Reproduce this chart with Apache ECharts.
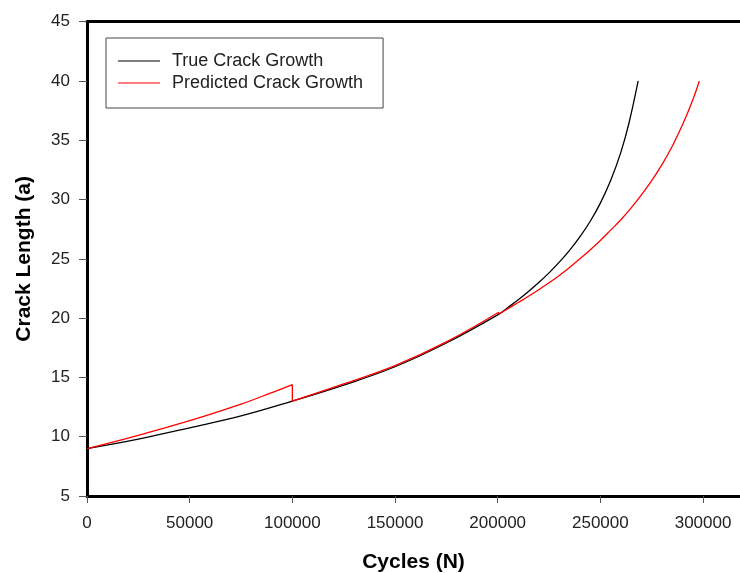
<!DOCTYPE html>
<html>
<head>
<meta charset="utf-8">
<script src="https://cdn.jsdelivr.net/npm/echarts@6/dist/echarts.min.js"></script>
<style>
html,body{margin:0;padding:0;background:#fff;}
#chart{width:740px;height:573px;}
</style>
</head>
<body>
<div id="chart"></div>
<script>
// ---- data ----
const seriesNames = ['True Crack Growth', 'Predicted Crack Growth'];

// true crack growth
const trueCycles = [0, 25000, 50000, 75000, 100000, 125000, 150000, 175000, 200000,
  205000, 210000, 215000, 220000, 225000, 230000, 235000, 240000, 245000, 250000, 255000, 260000, 264000, 268400];
const trueLength = [9.0, 9.8, 10.75, 11.75, 13.0, 14.35, 15.9, 17.9, 20.27,
  20.9, 21.55, 22.25, 23.0, 23.82, 24.72, 25.72, 26.85, 28.15, 29.7, 31.6, 34.0, 36.5, 40.0];

// predicted crack growth, three segments (re-calibrated at 100000 and ~200000 cycles)
const predCycles1 = [0, 25000, 50000, 75000, 89000, 100000];
const predLength1 = [9.0, 10.12, 11.35, 12.75, 13.65, 14.4];
const predCycles2 = [100000, 125000, 150000, 175000, 200500];
const predLength2 = [13.0, 14.45, 16.0, 18.0, 20.5];
const predCycles3 = [200500, 205000, 210000, 215000, 220000, 225000, 230000, 235000, 240000, 245000, 250000,
  255000, 260000, 265000, 270000, 275000, 280000, 285000, 290000, 295000, 298200];
const predLength3 = [20.33, 20.8, 21.32, 21.85, 22.4, 22.98, 23.6, 24.27, 25.0, 25.75, 26.55,
  27.42, 28.3, 29.3, 30.4, 31.6, 32.95, 34.5, 36.3, 38.4, 40.0];

const xTicks = {min: 0, max: 318000, interval: 50000};
const yTicks = {min: 5, max: 45, interval: 5};

const toPairs = (xs, ys) => xs.map((x, i) => [x, ys[i]]);
const last = a => a[a.length - 1];

const FONT = "'Liberation Sans', Arial, sans-serif";
const chart = echarts.init(document.getElementById('chart'), null, {renderer: 'canvas'});

const lineBase = {type: 'line', showSymbol: false, symbol: 'none', xAxisIndex: 0};
const RED = '#ff0000';

chart.setOption({
  animation: false,
  backgroundColor: '#ffffff',
  grid: {left: 87, top: 21.7, bottom: 77, right: 0, containLabel: false, outerBoundsMode: 'none'},
  legend: {
    data: seriesNames,
    orient: 'vertical',
    left: 106, top: 38,
    padding: [14, 20, 16, 12],
    borderColor: '#444', borderWidth: 1,
    itemWidth: 42, itemHeight: 1,
    itemGap: 4,
    icon: 'rect',
    textStyle: {fontFamily: FONT, fontSize: 18, color: '#222', lineHeight: 18, padding: [0, 0, 0, 7]}
  },
  xAxis: [{
    type: 'value',
    min: xTicks.min, max: xTicks.max, interval: xTicks.interval,
    name: 'Cycles (N)', nameLocation: 'middle', nameGap: 56,
    nameTextStyle: {fontFamily: FONT, fontSize: 21, fontWeight: 'bold', color: '#000'},
    axisLine: {lineStyle: {color: '#000', width: 3}},
    axisTick: {length: 7, lineStyle: {color: '#555', width: 1}},
    axisLabel: {fontFamily: FONT, fontSize: 17, color: '#222', margin: 19, showMaxLabel: false,
      formatter: v => String(v)},
    splitLine: {show: false}
  }, {
    type: 'value', position: 'top',
    min: xTicks.min, max: xTicks.max, interval: xTicks.interval,
    axisLine: {lineStyle: {color: '#000', width: 3}},
    axisTick: {show: false}, axisLabel: {show: false}, splitLine: {show: false}
  }],
  yAxis: {
    type: 'value',
    min: yTicks.min, max: yTicks.max, interval: yTicks.interval,
    name: 'Crack Length (a)', nameLocation: 'middle', nameGap: 52,
    nameTextStyle: {fontFamily: FONT, fontSize: 21, fontWeight: 'bold', color: '#000'},
    axisLine: {lineStyle: {color: '#000', width: 3}},
    axisTick: {length: 8, lineStyle: {color: '#555', width: 1}},
    axisLabel: {fontFamily: FONT, fontSize: 17, color: '#222', margin: 17},
    splitLine: {show: false}
  },
  series: [
    Object.assign({}, lineBase, {
      name: seriesNames[0], data: toPairs(trueCycles, trueLength), smooth: 0.4,
      color: '#000', lineStyle: {color: '#000', width: 1.3}
    }),
    Object.assign({}, lineBase, {
      name: seriesNames[1], data: toPairs(predCycles1, predLength1), smooth: 0.4,
      color: RED, lineStyle: {color: RED, width: 1.3}
    }),
    Object.assign({}, lineBase, {
      name: seriesNames[1],
      data: [[last(predCycles1), last(predLength1)], [predCycles2[0], predLength2[0]]],
      color: RED, lineStyle: {color: RED, width: 1.3}
    }),
    Object.assign({}, lineBase, {
      name: seriesNames[1], data: toPairs(predCycles2, predLength2), smooth: 0.4,
      color: RED, lineStyle: {color: RED, width: 1.3}
    }),
    Object.assign({}, lineBase, {
      name: seriesNames[1],
      data: [[last(predCycles2), last(predLength2)], [predCycles3[0], predLength3[0]]],
      color: RED, lineStyle: {color: RED, width: 1.3}
    }),
    Object.assign({}, lineBase, {
      name: seriesNames[1], data: toPairs(predCycles3, predLength3), smooth: 0.4,
      color: RED, lineStyle: {color: RED, width: 1.3}
    })
  ]
});
</script>
</body>
</html>
